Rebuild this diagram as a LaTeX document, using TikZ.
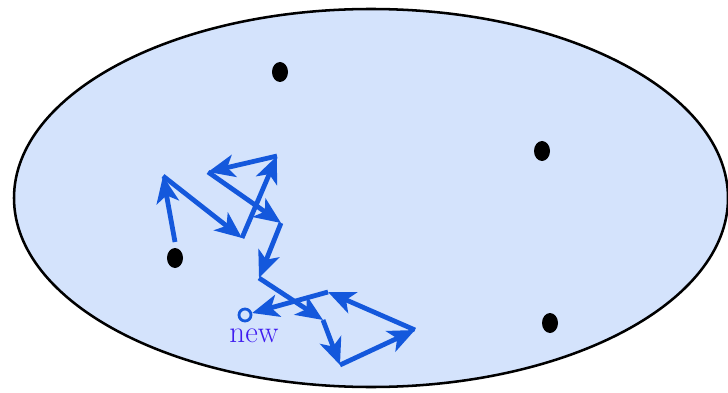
\documentclass[tikz,border=0pt]{standalone}
\usepackage{tikz}
\usetikzlibrary{arrows.meta}
\definecolor{fieldblue}{HTML}{D4E3FC}
\definecolor{walkblue}{HTML}{1458DC}
\definecolor{newviolet}{HTML}{3F1CF0}
\begin{document}
\begin{tikzpicture}[x=0.025cm, y=-0.025cm,
    walk/.style={walkblue, line width=3.4pt, -{Stealth[length=19pt,width=16pt,inset=5pt]}}]
  \useasboundingbox (0,0) rectangle (728,393);
  \draw[fill=fieldblue, line width=1.8pt] (371,198) ellipse (357 and 189);
  \fill (280,72) ellipse (8 and 10);
  \fill (542,151) ellipse (8 and 10);
  \fill (175,258) ellipse (8 and 10);
  \fill (550,323) ellipse (8 and 10);
  \coordinate (w0) at (175,242);
  \coordinate (w1) at (163,176);
  \coordinate (w2) at (242,238);
  \coordinate (w3) at (277,156);
  \coordinate (w4) at (208,172);
  \coordinate (w5) at (281,223);
  \coordinate (w6) at (259,278);
  \coordinate (w7) at (323,320);
  \coordinate (w8) at (340,365);
  \coordinate (w9) at (415,330);
  \coordinate (w10) at (328,292);
  \node[draw=walkblue, circle, line width=2pt, inner sep=0pt, minimum size=0.3cm] (new) at (245,315) {};
  \node[newviolet, font=\fontsize{22}{24}\selectfont] at (254,336) {new};
  \foreach \a/\b in {w0/w1, w1/w2, w2/w3, w3/w4, w4/w5, w5/w6, w6/w7, w7/w8, w8/w9, w9/w10}
    \draw[walk] (\a) -- (\b);
  \draw[walk] (w10) -- (new);
\end{tikzpicture}
\end{document}
